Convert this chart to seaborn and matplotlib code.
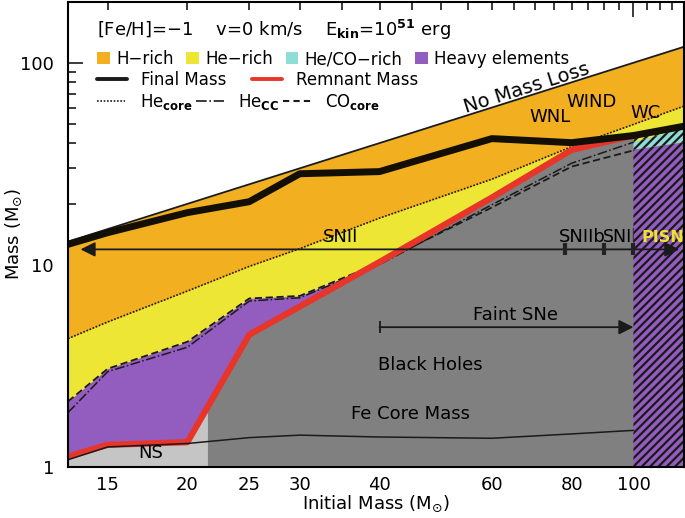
import numpy as np
import matplotlib
matplotlib.use("Agg")
import matplotlib.pyplot as plt
from matplotlib.patches import Patch
from matplotlib.lines import Line2D
from matplotlib.ticker import FixedLocator, FixedFormatter
import seaborn as sns

# initial masses of the model grid (Msun)
mass = [13, 15, 20, 25, 30, 40, 60, 80, 100, 120]
final_mass = [12.6, 14.4, 18.1, 20.5, 28.2, 28.9, 42.1, 40.2, 43.6, 48.5]
he_core = [4.3, 5.2, 7.4, 9.8, 12.0, 17.0, 26.5, 38.4, 49.5, 61.0]

# quantities up to 100 Msun (core collapse)
mass_cc = [13, 15, 20, 25, 30, 40, 60, 80, 100]
remnant = [1.12, 1.28, 1.32, 4.5, 6.2, 10.3, 21.5, 37.0, 43.6]
co_core = [2.1, 3.05, 4.15, 6.8, 7.0, 10.2, 19.2, 30.6, 36.8]
he_cc = [1.85, 2.95, 3.9, 6.6, 6.85, 10.0, 19.8, 31.8, 40.4]
fe_core = [1.08, 1.25, 1.30, 1.39, 1.43, 1.40, 1.38, 1.45, 1.51]

# neutron star region
ns_mass = [13, 15, 20, 21.5]
ns_top = [1.12, 1.28, 1.32, 1.96]

# pair instability region
pisn_mass = [100, 120]
pisn_heavy = [37.1, 40.4]
pisn_heco = [40.4, 47.5]
pisn_he = [43.6, 48.5]

# SN type boundaries along the arrow
sn_bounds = [78, 90, 100]

ORANGE = "#F2AF1F"
YELLOW = "#EDE634"
CYAN = "#8FDDD6"
PURPLE = "#935CBF"
DGRAY = "#808080"
LGRAY = "#C4C5C4"
RED = "#E8352A"

sns.set_theme(style="ticks")
plt.rcParams["font.family"] = ["DejaVu Sans"]
plt.rcParams.update({
    "hatch.linewidth": 1.6,
    "axes.linewidth": 1.5,
    "text.color": "black",
    "axes.labelcolor": "black",
    "axes.edgecolor": "black",
    "xtick.color": "black",
    "ytick.color": "black",
})

fig = plt.figure(figsize=(6.85, 5.18), dpi=100)
ax = fig.add_axes([68 / 685, 1 - 466.5 / 518, 616 / 685, 464.5 / 518])
ax.set_xscale("log")
ax.set_yscale("log")

# stacked composition layers (painted bottom-up)
ax.fill_between(mass, 1, mass, color=ORANGE, lw=0)
ax.fill_between(mass, 1, he_core, color=YELLOW, lw=0)
ax.fill_between(mass_cc, 1, np.maximum(co_core, he_cc), color=PURPLE, lw=0)
ax.fill_between(mass_cc, 1, remnant, color=DGRAY, lw=0)
ax.fill_between(ns_mass, 1, ns_top, color=LGRAY, lw=0)

ax.fill_between(pisn_mass, pisn_heco, pisn_he, facecolor=YELLOW, edgecolor="k", hatch="////", lw=0, zorder=3)
ax.fill_between(pisn_mass, pisn_heavy, pisn_heco, facecolor=CYAN, edgecolor="k", hatch="////", lw=0, zorder=3)
ax.fill_between(pisn_mass, 1, pisn_heavy, facecolor=PURPLE, edgecolor="k", hatch="////", lw=0, zorder=3)

# lines
sns.lineplot(x=mass, y=mass, ax=ax, color="k", lw=1.3, zorder=4)
sns.lineplot(x=mass, y=he_core, ax=ax, color="k", lw=1.2, linestyle=(0, (1, 1)), zorder=4)
sns.lineplot(x=mass_cc, y=he_cc, ax=ax, color="k", lw=1.1, linestyle="-.", zorder=4)
sns.lineplot(x=mass_cc, y=co_core, ax=ax, color="k", lw=1.3, linestyle=(0, (4, 2)), zorder=4)
sns.lineplot(x=mass_cc, y=remnant, ax=ax, color=RED, lw=4.5, zorder=5)
sns.lineplot(x=mass_cc, y=fe_core, ax=ax, color="k", lw=1.1, zorder=5)
sns.lineplot(x=mass, y=final_mass, ax=ax, color="#140f05", lw=5, zorder=6)

# SN arrows
y_sn = 11.9
arrow = dict(arrowstyle="-|>", color="k", lw=1.3, mutation_scale=22, shrinkA=0, shrinkB=0)
ax.annotate("", xy=(13.6, y_sn), xytext=(100, y_sn), arrowprops=arrow, zorder=7)
ax.annotate("", xy=(118, y_sn), xytext=(100, y_sn), arrowprops=arrow, zorder=7)
ax.plot(sn_bounds, [y_sn] * len(sn_bounds), ls="none", marker="|", ms=9, mew=3, color="#222222", zorder=7)

y_faint = 4.9
ax.annotate("", xy=(100, y_faint), xytext=(40, y_faint), arrowprops=arrow, zorder=7)
ax.plot([40], [y_faint], ls="none", marker="|", ms=9, mew=1.3, color="k", zorder=7)

fs = 12
fs2 = 13
ax.text(34.7, 13.0, "SNII", fontsize=fs2, ha="center", va="baseline", zorder=7)
ax.text(83.2, 13.0, "SNIIb", fontsize=fs2, ha="center", va="baseline", zorder=2.5)
ax.text(89.4, 13.0, "SNIb", fontsize=12.5, ha="left", va="baseline", zorder=2.5)
ax.text(102.8, 13.0, "PISN", fontsize=11.5, ha="left", va="baseline", color="#F0E030",
        fontweight="bold", zorder=7)
ax.text(65.3, 5.6, "Faint SNe", fontsize=fs2, ha="center", va="center", zorder=7)
ax.text(48.1, 3.17, "Black Holes", fontsize=fs2, ha="center", va="center", zorder=7)
ax.text(44.7, 1.81, "Fe Core Mass", fontsize=fs2, ha="center", va="center", zorder=7)
ax.text(17.5, 1.16, "NS", fontsize=fs2, ha="center", va="center", zorder=7)
ax.text(74.1, 53.6, "WNL", fontsize=fs2, ha="center", va="center", zorder=7)
ax.text(85.9, 63.6, "WIND", fontsize=fs2, ha="center", va="center", zorder=7)
ax.text(104.5, 56.1, "WC", fontsize=fs2, ha="center", va="center", zorder=7)
ax.text(68.5, 70.5, "No Mass Loss", fontsize=14, ha="center", va="baseline", rotation=17.5,
        rotation_mode="anchor", zorder=7)

fig.text(97 / 685, 1 - 30 / 518,
         r"[Fe/H]=$-$1    v=0 km/s    E$_{\mathbf{kin}}$=10$^{\mathbf{51}}$ erg",
         fontsize=fs2, ha="left", va="center")

# legends
h1 = [Patch(facecolor=c, edgecolor="none") for c in (ORANGE, YELLOW, CYAN, PURPLE)]
leg1 = ax.legend(h1, ["H\u2212rich", "He\u2212rich", "He/CO\u2212rich", "Heavy elements"],
                 ncol=4, loc="upper left", bbox_to_anchor=(97 / 685, 1 - 50 / 518),
                 bbox_transform=fig.transFigure, frameon=False, fontsize=fs,
                 handlelength=0.75, handleheight=0.75, handletextpad=0.4,
                 columnspacing=0.75, borderpad=0, borderaxespad=0)
ax.add_artist(leg1)
h2 = [Line2D([], [], color="k", lw=2.8), Line2D([], [], color=RED, lw=2.8)]
leg2 = ax.legend(h2, ["Final Mass", "Remnant Mass"], ncol=2, loc="upper left",
                 bbox_to_anchor=(97 / 685, 1 - 71 / 518), bbox_transform=fig.transFigure,
                 frameon=False, fontsize=fs, handlelength=1.8, handletextpad=0.85,
                 columnspacing=1.5, borderpad=0, borderaxespad=0)
ax.add_artist(leg2)
h3 = [Line2D([], [], color="k", lw=1.2, ls=(0, (1, 1))),
      Line2D([], [], color="k", lw=1.2, ls="-."),
      Line2D([], [], color="k", lw=1.5, ls=(0, (3, 2)))]
leg3 = ax.legend(h3, [r"He$_{\mathbf{core}}$", r"He$_{\mathbf{CC}}$", r"CO$_{\mathbf{core}}$"],
                 ncol=3, loc="upper left", bbox_to_anchor=(97 / 685, 1 - 92 / 518),
                 bbox_transform=fig.transFigure, frameon=False, fontsize=fs,
                 handlelength=1.7, handletextpad=0.85, columnspacing=0.2,
                 borderpad=0, borderaxespad=0)

# axes
ax.set_xlim(13, 120)
ax.set_ylim(1, 200)
xmin_ticks = [15, 20, 25, 30, 35, 40, 45, 50, 55, 60, 65, 70, 75, 80, 85, 90, 95, 105, 110, 115]
xlab = {15: "15", 20: "20", 25: "25", 30: "30", 40: "40", 60: "60", 80: "80"}
ax.xaxis.set_major_locator(FixedLocator([100]))
ax.xaxis.set_major_formatter(FixedFormatter(["100"]))
ax.xaxis.set_minor_locator(FixedLocator(xmin_ticks))
ax.xaxis.set_minor_formatter(FixedFormatter([xlab.get(t, "") for t in xmin_ticks]))
ax.yaxis.set_major_locator(FixedLocator([1, 10, 100]))
ax.yaxis.set_major_formatter(FixedFormatter(["1", "10", "100"]))
ymin_ticks = [2, 3, 4, 5, 6, 7, 8, 9, 20, 30, 40, 50, 60, 70, 80, 90, 200]
ax.yaxis.set_minor_locator(FixedLocator(ymin_ticks))
ax.yaxis.set_minor_formatter(FixedFormatter([""] * len(ymin_ticks)))
ax.tick_params(which="both", direction="in", top=True, right=True, labelsize=fs2,
               color="k", width=1.2)
ax.tick_params(axis="x", which="both", pad=7)
ax.tick_params(axis="y", which="both", pad=10)
ax.tick_params(which="major", length=11)
ax.tick_params(which="minor", length=6)
ax.set_xlabel(r"Initial Mass (M$_{\odot}$)", fontsize=fs2)
ax.set_ylabel(r"Mass (M$_{\odot}$)", fontsize=fs2)
ax.xaxis.set_label_coords(0.5, -(494 - 466.5) / 464.5)
ax.yaxis.set_label_coords(-(68 - 24) / 616, 0.5)
for s in ax.spines.values():
    s.set_zorder(10)

fig.savefig("out.png", dpi=100)
